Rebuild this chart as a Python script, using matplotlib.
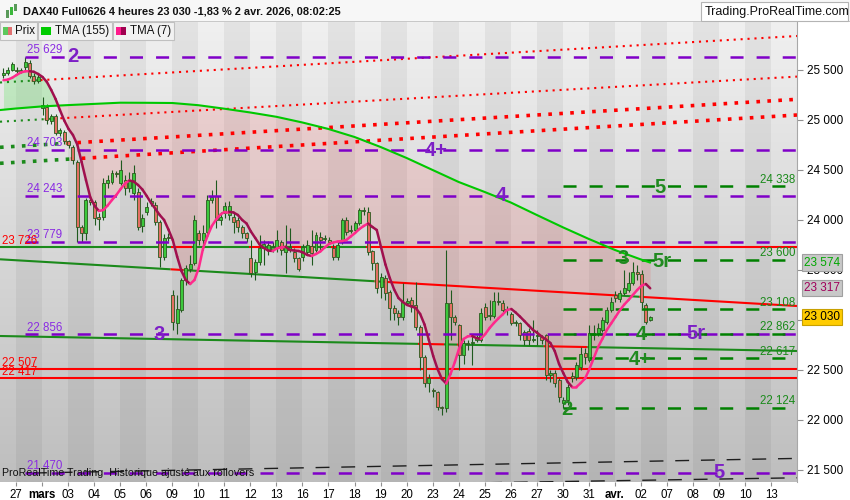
import numpy as np
import matplotlib
matplotlib.use("Agg")
import matplotlib.pyplot as plt
import matplotlib.transforms as mtransforms
from matplotlib.patches import Rectangle
from matplotlib.collections import LineCollection
from matplotlib.colors import LinearSegmentedColormap

plt.rcParams['font.family'] = ['Liberation Sans', 'DejaVu Sans']
plt.rcParams['lines.scale_dashes'] = False

# ---------------- data ----------------
# trading-day index: 0 = 26 Feb (not labelled), 1 = 27 Feb ... 25 = 2 Apr, then future days
tick_labels = ['27', 'mars', '03', '04', '05', '06', '09', '10', '11', '12', '13',
               '16', '17', '18', '19', '20', '23', '24', '25', '26', '27', '30',
               '31', 'avr.', '02', '07', '08', '09', '10', '13']
bold_ticks = ['mars', 'avr.']
x_left, x_right = 0.386, 30.99
y_low, y_high = 21380, 25980

first_slot = 3          # first visible bar = 4th 4h bar of 26 Feb
bars_per_day = 6

opens = [25450, 25470, 25500,
         25500, 25490, 25530, 25570, 25440, 25390,
         25120, 25130, 24990, 25040, 24870, 24880,
         24790, 24730, 24580, 23930, 23870, 24200,
         24180, 24030, 24030, 24370, 24380, 24470,
         24370, 24400, 24320, 24270, 24280, 23940,
         24080, 24170, 24150, 23980, 23630, 23830,
         23250, 22970, 23100, 23400, 23510, 23570,
         23870, 23800, 23880, 24200, 24240, 24000,
         24070, 24050, 24030, 24000, 23930, 23870,
         23620, 23480, 23580, 23720, 23700, 23700,
         23720, 23780, 23680, 23700, 23680, 23620,
         23630, 23680, 23740, 23700, 23830, 23810,
         23800, 23720, 23630, 23780, 24000, 23890,
         23900, 23970, 24090, 24080, 23690, 23570,
         23330, 23420, 23280, 23120, 23070, 23030,
         23170, 23200, 23150, 22930, 22630, 22370,
         22300, 22280, 22130, 22120, 23170, 23030,
         22950, 22650, 22760, 22770, 22800, 22800,
         23130, 23040, 23040, 23180, 23170, 23100,
         23060, 22970, 22970, 22880, 22890, 22800,
         22840, 22830, 22850, 22450, 22470, 22400,
         22170, 22200, 22440, 22430, 22530, 22670,
         22600, 22850, 22870, 22900, 22980, 23100,
         23250, 23210, 23270, 23300, 23370, 23480,
         23460, 23150, 23000]
highs = [25520, 25530, 25580,
         25530, 25520, 25629, 25600, 25470, 25460,
         25230, 25160, 25060, 25060, 24920, 24900,
         24800, 24750, 24600, 23950, 24220, 24230,
         24200, 24070, 24420, 24450, 24500, 24490,
         24600, 24450, 24480, 24550, 24320, 24060,
         24180, 24220, 24180, 24000, 23860, 23870,
         23300, 23250, 23420, 23550, 23650, 24050,
         23900, 23950, 24250, 24300, 24400, 24080,
         24180, 24190, 24080, 24030, 23950, 23880,
         23800, 23610, 23850, 23800, 23790, 23780,
         23900, 23800, 23950, 23920, 23720, 23630,
         23760, 23800, 23900, 23880, 23880, 23850,
         23830, 23760, 23780, 24020, 24030, 23950,
         23990, 24120, 24130, 24130, 23700, 23580,
         23470, 23450, 23300, 23150, 23100, 23370,
         23220, 23230, 23380, 22950, 22650, 22460,
         22320, 22290, 22140, 23700, 23300, 23050,
         22960, 22800, 22800, 22850, 22850, 23120,
         23170, 23200, 23280, 23280, 23200, 23140,
         23080, 23000, 22980, 22900, 22920, 23000,
         22900, 22850, 22860, 22500, 22500, 22420,
         22230, 22360, 22480, 22580, 22730, 22720,
         22950, 22950, 22970, 23030, 23130, 23230,
         23290, 23300, 23500, 23480, 23580, 23550,
         23500, 23170, 23040]
lows = [25420, 25450, 25490,
        25470, 25470, 25500, 25420, 25360, 25370,
        25050, 24960, 24960, 24850, 24840, 24760,
        24720, 24560, 23780, 23780, 23800, 24150,
        23950, 23900, 24000, 24320, 24360, 24430,
        24350, 24250, 24280, 24200, 23900, 23880,
        24050, 24140, 23950, 23530, 23600, 23790,
        22900, 22856, 23080, 23350, 23480, 23550,
        23750, 23700, 23850, 24170, 23920, 23950,
        24020, 24000, 23870, 23880, 23820, 23780,
        23430, 23400, 23550, 23550, 23650, 23680,
        23680, 23650, 23470, 23680, 23580, 23490,
        23590, 23650, 23550, 23680, 23700, 23790,
        23760, 23600, 23600, 23760, 23850, 23870,
        23880, 23950, 24050, 23650, 23500, 23270,
        23220, 23200, 23000, 23000, 22950, 23000,
        23150, 23080, 22900, 22500, 22330, 22280,
        22230, 22100, 22050, 22080, 22800, 22950,
        22500, 22560, 22700, 22550, 22780, 22780,
        23000, 23000, 23020, 23150, 23080, 23050,
        22950, 22940, 22800, 22750, 22750, 22780,
        22750, 22760, 22400, 22380, 22330, 22180,
        22124, 22150, 22380, 22400, 22500, 22560,
        22580, 22800, 22840, 22880, 22960, 23080,
        23180, 23180, 23250, 23280, 23350, 23400,
        23120, 22960, 22990]
closes = [25475, 25500, 25560,
          25490, 25500, 25580, 25440, 25390, 25430,
          25150, 25000, 25040, 24870, 24900, 24790,
          24750, 24600, 23930, 23870, 24200, 24180,
          24020, 24010, 24370, 24400, 24470, 24460,
          24500, 24320, 24400, 24470, 23930, 24020,
          24130, 24190, 23980, 23630, 23820, 23820,
          22980, 23110, 23400, 23520, 23560, 24000,
          23800, 23870, 24200, 24230, 24000, 24030,
          24140, 24140, 23980, 23930, 23870, 23820,
          23470, 23580, 23720, 23760, 23750, 23730,
          23800, 23700, 23730, 23730, 23620, 23510,
          23730, 23750, 23670, 23850, 23800, 23820,
          23780, 23630, 23750, 24000, 23880, 23900,
          23970, 24100, 24100, 23680, 23570, 23320,
          23430, 23270, 23120, 23070, 23030, 23180,
          23190, 23150, 22930, 22630, 22370, 22420,
          22290, 22130, 22120, 23170, 23030, 22980,
          22650, 22770, 22770, 22780, 22830, 23070,
          23030, 23050, 23190, 23190, 23100, 23110,
          22970, 22980, 22850, 22800, 22800, 22810,
          22850, 22800, 22450, 22470, 22370, 22230,
          22200, 22330, 22420, 22550, 22660, 22630,
          22870, 22870, 22920, 23000, 23100, 23180,
          23220, 23270, 23320, 23370, 23480, 23460,
          23180, 22980, 23030]
tma7 = [25398, 25404, 25422,
        25450, 25475, 25487, 25488, 25482, 25460,
        25430, 25380, 25300, 25210, 25100, 24995,
        24910, 24850, 24755, 24580, 24400, 24227,
        24140, 24090, 24100, 24145, 24200, 24250,
        24310, 24365, 24395, 24385, 24350, 24305,
        24240, 24170, 24110, 24050, 24000, 23905,
        23800, 23635, 23490, 23400, 23360, 23400,
        23520, 23720, 23840, 23940, 24005, 24055,
        24083, 24083, 24075, 24050, 24000, 23965,
        23885, 23820, 23755, 23720, 23694, 23690,
        23717, 23725, 23732, 23700, 23695, 23690,
        23675, 23650, 23640, 23660, 23685, 23725,
        23760, 23775, 23785, 23790, 23800, 23835,
        23870, 23910, 23940, 23965, 23930, 23900,
        23725, 23555, 23420, 23305, 23220, 23180,
        23150, 23135, 23120, 23060, 22955, 22800,
        22640, 22510, 22410, 22365, 22460, 22580,
        22720, 22810, 22837, 22839, 22818, 22810,
        22860, 22920, 22970, 23015, 23055, 23100,
        23110, 23075, 23034, 22990, 22945, 22900,
        22870, 22835, 22805, 22770, 22690, 22560,
        22467, 22380, 22330, 22330, 22370, 22415,
        22510, 22620, 22730, 22813, 22900, 22965,
        23030, 23097, 23153, 23200, 23250, 23300,
        23343, 23360, 23317]
# TMA(155) at the start of each trading day (index 0..25) and on the last bar
tma155_day = [25090, 25115, 25136, 25149, 25161, 25173, 25172, 25170, 25148,
              25113, 25075, 25032, 24975, 24910, 24830, 24730, 24620, 24500,
              24380, 24280, 24175, 24050, 23927, 23810, 23700, 23605]
tma155_last = 23574

# levels & trend lines
purple_levels = [25629, 24703, 24243, 23779, 22856, 21470]
green_levels = [24338, 23600, 23108, 22862, 22617, 22124]
red_levels = [22507, 22417]
switch_level = 23726
trend_lines = [(x_left, 23607, x_right, 23140),
               (x_left, 22840, x_right, 22690)]
dotted_small = [(x_left, 25375, x_right, 25840),
                (x_left, 24983, x_right, 25434)]
dotted_big = [(x_left, 24727, x_right, 25207),
              (x_left, 24567, x_right, 25050)]
black_lines = [(1.653, 21470, x_right, 21616),
               (x_left, 21295, x_right, 21422)]

purple_waves = [('2', 3.19, 25580), ('4+', 17.13, 24640), ('4', 19.63, 24190),
                ('3', 6.49, 22800), ('5r', 27.11, 22810), ('5', 28.0, 21420)]
green_waves = [('5', 25.73, 24270), ('5r', 25.81, 23530), ('3', 24.31, 23560),
               ('4', 25.0, 22800), ('4+', 24.96, 22550), ('2', 22.16, 22050)]

last_price, last_tma7, last_tma155 = 23030, 23317, 23574

# ---------------- figure ----------------
fig = plt.figure(figsize=(8.5, 5), dpi=100, facecolor='white')
ax = fig.add_axes([0, 18 / 500, 797 / 850, 460 / 500])

def fx(px): return px / 850.0
def fy(py): return 1 - py / 500.0

O = np.array(opens, float); Hh = np.array(highs, float)
Ll = np.array(lows, float); C = np.array(closes, float)
T7 = np.array(tma7, float)
n = len(C)
slot = np.arange(n) + first_slot
cday = slot // bars_per_day
ck = slot % bars_per_day
cx = cday + ck / bars_per_day + 0.02

t155_x = np.concatenate([np.arange(len(tma155_day)), [cx[-1]]])
t155_v = np.concatenate([tma155_day, [tma155_last]])
t155_c = np.interp(cx, t155_x, t155_v)

# background gradient + day bands
cmap = LinearSegmentedColormap.from_list('bg', ['#f0f0f0', '#bebebe'])
grad = np.linspace(0, 1, 256).reshape(-1, 1)
ax.imshow(grad, extent=[x_left, x_right, y_low, y_high], aspect='auto',
          cmap=cmap, origin='upper', zorder=0, interpolation='bilinear')
for i in range(0, 32):
    if i % 2 == 1:
        ax.axvspan(i, i + 1, color='black', alpha=0.05, lw=0, zorder=0.5)

# fill between averages
ax.fill_between(cx, T7, t155_c, where=T7 < t155_c, interpolate=True,
                color='#ff3030', alpha=0.13, lw=0, zorder=1)
ax.fill_between(cx, T7, t155_c, where=T7 >= t155_c, interpolate=True,
                color='#30e030', alpha=0.22, lw=0, zorder=1)

GREEN_LINE = '#1b8a1b'
RED_LINE = '#ff0000'

def colored_line(x0, v0, x1, v1, zorder=2.5, **kw):
    def val(x):
        return v0 + (v1 - v0) * (x - x0) / (x1 - x0)
    above = C >= val(cx)
    edges = np.concatenate([[x0], (cx[:-1] + cx[1:]) / 2, [x1]])
    start = 0
    for i in range(1, n + 1):
        if i == n or above[i] != above[start]:
            xa, xb = max(edges[start], x0), min(edges[i], x1)
            if xb > xa:
                ax.plot([xa, xb], [val(xa), val(xb)],
                        color=GREEN_LINE if above[start] else RED_LINE,
                        zorder=zorder, **kw)
            start = i

for (x0, v0, x1, v1) in dotted_small:
    colored_line(x0, v0, x1, v1, lw=1.5, dashes=(1.5, 3.5), dash_capstyle='butt')
for (x0, v0, x1, v1) in dotted_big:
    colored_line(x0, v0, x1, v1, lw=2.6, dashes=(2.6, 5.3), dash_capstyle='butt')
for (x0, v0, x1, v1) in trend_lines:
    colored_line(x0, v0, x1, v1, lw=1.5, solid_capstyle='butt')
colored_line(x_left, switch_level, x_right, switch_level, lw=1.5, solid_capstyle='butt')
for lv in red_levels:
    ax.plot([x_left, x_right], [lv, lv], color=RED_LINE, lw=1.5, zorder=2.5)
for (x0, v0, x1, v1) in black_lines:
    ax.plot([x0, x1], [v0, v1], color='#1e1e1e', lw=1.0, dashes=(10, 8.5), zorder=2.5)

# candles
up = C >= O
body_bottom = np.minimum(O, C)
body_h = np.maximum(np.abs(C - O), 10)
ax.vlines(cx, Ll, Hh, color='#1f5a1f', lw=0.8, zorder=3)
ax.bar(cx, body_h, bottom=body_bottom, width=0.115,
       color=np.where(up, '#3cc83c', '#e46f63'), edgecolor='#2a5a1e',
       linewidth=0.6, zorder=3.1)

# dashed levels
PURPLE = '#7f00c8'
DASH = (9.4, 9.4)
p_start = cx[5]
for lv in purple_levels:
    ax.plot([p_start, x_right], [lv, lv], color=PURPLE, lw=1.8, dashes=DASH,
            dash_capstyle='butt', zorder=3.5)
g_start = cx[22 * bars_per_day - first_slot]
for lv in green_levels:
    ax.plot([g_start, x_right], [lv, lv], color='#008000', lw=1.8, dashes=DASH,
            dash_capstyle='butt', zorder=3.6)

# averages
ax.plot(t155_x, t155_v, color='#00c800', lw=1.5, zorder=4, solid_capstyle='round')
pts = np.column_stack([cx, T7])
segs = np.stack([pts[:-1], pts[1:]], axis=1)
cols = ['#ff2a8c' if T7[i + 1] >= T7[i] else '#a0104e' for i in range(n - 1)]
ax.add_collection(LineCollection(segs, colors=cols, linewidths=1.8,
                                 capstyle='round', zorder=4.2))

# labels
def fmt(v):
    return f"{v:,}".replace(',', ' ')

for lv in purple_levels:
    ax.annotate(fmt(lv), (1.42, lv), xytext=(0, 0.5), textcoords='offset points',
                ha='left', va='bottom', fontsize=8.3, color='#8a2be2', zorder=5)
for lv in [switch_level] + red_levels:
    ax.annotate(fmt(lv), (0.463, lv), xytext=(0, 0.5), textcoords='offset points',
                ha='left', va='bottom', fontsize=8.3, color='#ff0000', zorder=5)
for lv in green_levels:
    ax.annotate(fmt(lv), (30.916, lv), xytext=(0, 0.5), textcoords='offset points',
                ha='right', va='bottom', fontsize=8.3, color='#1a8a1a', zorder=5)
for (s, x, v) in purple_waves:
    ax.text(x, v, s, ha='center', va='baseline', fontsize=14.5, fontweight='bold',
            color='#7d1fc6', zorder=6)
for (s, x, v) in green_waves:
    ax.text(x, v, s, ha='center', va='baseline', fontsize=14.5, fontweight='bold',
            color='#208a20', zorder=6)

ax.text(0.463, 21380 + 35, 'ProRealTime Trading  Historique ajusté aux rollovers',
        ha='left', va='bottom', fontsize=7.7, color='#111111', zorder=6)

# axes
ax.set_xlim(x_left, x_right)
ax.set_ylim(y_low, y_high)
ax.set_xticks(range(1, len(tick_labels) + 1))
ax.set_xticklabels(tick_labels)
for t in ax.get_xticklabels():
    if t.get_text() in bold_ticks:
        t.set_fontweight('bold')
yt = list(range(21500, 26000, 500))
ax.set_yticks(yt)
ax.set_yticklabels([fmt(v) for v in yt])
for t, v in zip(ax.get_yticklabels(), yt):
    if v == 25000:
        t.set_fontweight('bold')
ax.yaxis.tick_right()
ax.tick_params(axis='x', length=3, pad=2, labelsize=8.3, color='#909090')
ax.tick_params(axis='y', length=4, pad=3, labelsize=8.5, color='#909090')
for sp in ['top', 'left', 'bottom']:
    ax.spines[sp].set_visible(False)
ax.spines['right'].set_color('#a8a8a8')

trans = mtransforms.blended_transform_factory(ax.transAxes, ax.transData)
for v, fc, ec, tc in [(last_tma155, '#c8c8c8', '#a0a0a0', '#00a800'),
                      (last_tma7, '#c8c8c8', '#a0a0a0', '#a0005a'),
                      (last_price, '#ffcc00', '#c8a000', '#000000')]:
    ax.text(1.0 + 7 / 797, v, fmt(v), transform=trans, ha='left', va='center',
            fontsize=8.5, color=tc, zorder=10, clip_on=False,
            bbox=dict(boxstyle='square,pad=0.18', fc=fc, ec=ec, lw=0.8))

# header bar
fig.add_artist(Rectangle((0, fy(22)), 1, 22 / 500, transform=fig.transFigure,
                         fc='#f7f7f7', ec='none', zorder=5))
fig.add_artist(Rectangle((0, fy(22)), 1, 0.0015, transform=fig.transFigure,
                         fc='#c8c8c8', ec='none', zorder=5))
for (px, top, bot, col) in [(6, 10, 18, '#5a9a5a'), (10, 7, 15, '#3cb83c'), (14, 4, 11, '#5a9a5a')]:
    fig.add_artist(Rectangle((fx(px), fy(bot)), 2.5 / 850, (bot - top) / 500,
                             transform=fig.transFigure, fc=col, ec='none', zorder=6))
fig.text(fx(23), fy(12), 'DAX40 Full0626 4 heures 23 030 -1,83 % 2 avr. 2026, 08:02:25',
         ha='left', va='center', fontsize=7.9, fontweight='bold', color='#111111', zorder=6)
fig.add_artist(Rectangle((fx(701), fy(21)), 147 / 850, 19 / 500, transform=fig.transFigure,
                         fc='white', ec='#b4b4b4', lw=0.8, zorder=6))
fig.text(fx(705), fy(12), 'Trading.ProRealTime.com', ha='left', va='center',
         fontsize=9, color='#111111', zorder=7)

# legend boxes
for (x0, x1) in [(0, 37), (38, 112), (113, 174)]:
    fig.add_artist(Rectangle((fx(x0), fy(40)), (x1 - x0) / 850, 18 / 500,
                             transform=fig.transFigure, fc='#f2f2f2', ec='#c0c0c0',
                             lw=0.8, zorder=6))
for (a, b, col) in [(2.7, 7.5, '#5cc85c'), (7.5, 12.3, '#e07070'), (41, 50.7, '#00cc00'),
                    (116, 121, '#ff1a8c'), (121, 126, '#a00050')]:
    fig.add_artist(Rectangle((fx(a), fy(35)), (b - a) / 850, 8.5 / 500,
                             transform=fig.transFigure, fc=col, ec='none', zorder=7))
for (px, s) in [(15, 'Prix'), (55, 'TMA (155)'), (130, 'TMA (7)')]:
    fig.text(fx(px), fy(31), s, ha='left', va='center', fontsize=8.3,
             color='#111111', zorder=7)

fig.savefig('out.png', dpi=100, facecolor='white')
